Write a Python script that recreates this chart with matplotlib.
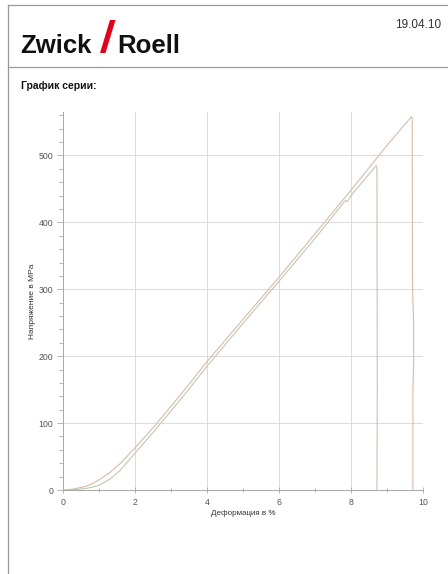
import numpy as np
import matplotlib
matplotlib.use("Agg")
import matplotlib.pyplot as plt
from matplotlib.patches import Polygon
from matplotlib.lines import Line2D

plt.rcParams['font.family'] = ['Liberation Sans', 'DejaVu Sans']

# Series data (deformation %, stress MPa)
strain_a = [0, 0.3, 0.6, 0.8, 1.0, 1.3, 1.6, 2.0, 2.5, 3.0, 3.5, 4.0, 5.0, 6.0, 7.0, 8.0, 9.0, 9.68,
            9.70, 9.71, 9.74, 9.74, 9.72, 9.72]
stress_a = [0, 1.5, 5, 9, 15, 26, 40, 63, 93, 125, 158, 192, 255, 318, 383, 448, 515, 558,
            555, 300, 250, 190, 150, 0]
strain_b = [0, 0.3, 0.6, 0.8, 1.0, 1.3, 1.6, 2.0, 2.5, 3.0, 3.5, 4.0, 5.0, 6.0, 7.0, 7.85, 7.9, 8.0, 8.7,
            8.72, 8.73, 8.72]
stress_b = [0, 0.5, 2, 4, 7, 16, 30, 55, 86, 118, 151, 185, 249, 312, 376, 433, 431, 440, 485,
            483, 150, 0]

x_ticks = [0, 2, 4, 6, 8, 10]
y_ticks = [0, 100, 200, 300, 400, 500]

fig = plt.figure(figsize=(4.48, 5.74), dpi=100)
W, H = 448, 574

def px(x, y):
    return x / W, 1 - y / H

# page frame
fig.add_artist(Line2D([8 / W, 8 / W], [0, 1 - 5 / H], color='#9a9a9a', lw=0.9))
fig.add_artist(Line2D([8 / W, 1], [1 - 5 / H, 1 - 5 / H], color='#9a9a9a', lw=0.9))
fig.add_artist(Line2D([8 / W, 1], [1 - 67 / H, 1 - 67 / H], color='#9a9a9a', lw=0.9))

# header
fig.text(*px(20, 53), "Zwick", fontsize=18.5, fontweight='bold', color='#111111', va='baseline')
fig.text(*px(117, 53), "Roell", fontsize=18.5, fontweight='bold', color='#111111', va='baseline')
slash = Polygon([px(100, 53), px(105.5, 53), px(115.5, 20), px(110, 20)], closed=True,
                facecolor='#e2001a', edgecolor='none', transform=fig.transFigure)
fig.add_artist(slash)
fig.text(*px(441, 25), "19.04.10", fontsize=8.5, color='#333333', ha='right', va='center')
fig.text(*px(21, 86), "График серии:", fontsize=7.5, fontweight='bold', color='#111111', va='center')

# chart
ax = fig.add_axes([63 / W, 1 - 490 / H, 360 / W, (490 - 112) / H])
ax.plot(strain_a, stress_a, color='#d6bba6', lw=0.8)
ax.plot(strain_b, stress_b, color='#bfc8b0', lw=0.8)

ax.set_xlim(0, 10)
ax.set_ylim(0, 565)
ax.set_xticks(x_ticks)
ax.set_yticks(y_ticks)
ax.set_xticks(np.arange(0, 11, 1), minor=True)
ax.set_yticks(np.arange(0, 565, 20), minor=True)
ax.grid(True, which='major', color='#d6d6d6', lw=0.6)
for s in ['top', 'right']:
    ax.spines[s].set_visible(False)
for s in ['left', 'bottom']:
    ax.spines[s].set_color('#a8a8a8')
    ax.spines[s].set_linewidth(0.7)
ax.tick_params(which='both', colors='#a8a8a8', labelcolor='#555555', labelsize=6.3, width=0.6)
ax.tick_params(axis='x', which='both', direction='inout')
ax.tick_params(axis='y', which='both', direction='out')
ax.tick_params(axis='x', which='major', length=4, pad=4)
ax.tick_params(axis='y', which='major', length=4, pad=3)
ax.tick_params(which='minor', length=3)
ax.axvline(10, color='#d6d6d6', lw=0.6)

ax.set_xlabel("Деформация в %", fontsize=5.8, color='#333333', labelpad=2)
ax.set_ylabel("Напряжение в MPa", fontsize=6.0, color='#333333', labelpad=2)

fig.savefig("out.png", dpi=100, facecolor='white')
